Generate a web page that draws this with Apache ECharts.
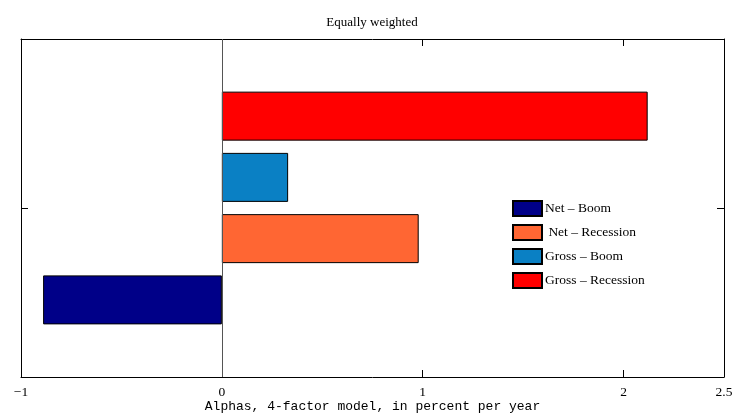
<!DOCTYPE html>
<html>
<head>
<meta charset="utf-8">
<script src="https://cdn.jsdelivr.net/npm/echarts@6/dist/echarts.min.js"></script>
<style>
  html, body { margin: 0; padding: 0; background: #ffffff; overflow: hidden; }
  #chart { width: 732px; height: 416px; }
</style>
</head>
<body>
<div id="chart"></div>
<script>
// Single group on the y axis, four bars (one per series)
const categories = [''];
const seriesNames = ['Net \u2013 Boom', ' Net \u2013 Recession', 'Gross \u2013 Boom', 'Gross \u2013 Recession'];
const netBoom = [-0.89];
const netRecession = [0.98];
const grossBoom = [0.33];
const grossRecession = [2.12];
const seriesColors = ['#000088', '#FF6633', '#0A80C4', '#FF0000'];
const xMin = -1;
const xMax = 2.5;
const xInterval = 1;

const seriesValues = [netBoom, netRecession, grossBoom, grossRecession];

const serif = 'Liberation Serif';
const mono = 'Liberation Mono';

const chart = echarts.init(document.getElementById('chart'), null, { renderer: 'canvas' });

const frameLine = { show: true, onZero: false, lineStyle: { color: '#000', width: 1 } };

const series = seriesNames.map((name, i) => {
  const s = {
    name: name,
    type: 'bar',
    data: seriesValues[i],
    barWidth: 49,
    barGap: '25%',
    itemStyle: { color: seriesColors[i], borderColor: '#000', borderWidth: 1 },
    emphasis: { disabled: true },
    animation: false
  };
  if (i === 0) {
    // baseline at zero
    s.markLine = {
      silent: true,
      symbol: ['none', 'none'],
      label: { show: false },
      lineStyle: { color: '#555', width: 1, type: 'solid' },
      data: [{ xAxis: 0 }],
      animation: false
    };
  }
  return s;
});
// horizontal bars stack top-down in series order, so list them last-first
// to put "Net – Boom" at the bottom; the legend keeps its own order
series.reverse();

const yAxisFor = position => ({
  type: 'category',
  position: position,
  data: categories,
  axisLine: frameLine,
  axisTick: { show: true, inside: true, length: 7, alignWithLabel: true, lineStyle: { color: '#000' } },
  axisLabel: { show: false },
  splitLine: { show: false }
});

chart.setOption({
  backgroundColor: '#ffffff',
  animation: false,
  title: {
    text: 'Equally weighted',
    left: 367,
    textAlign: 'center',
    top: 11,
    textStyle: { fontFamily: serif, fontSize: 13, fontWeight: 'normal', color: '#000' }
  },
  legend: {
    orient: 'vertical',
    left: 507,
    top: 195,
    itemWidth: 29,
    itemHeight: 15,
    itemGap: 7,
    icon: 'rect',
    data: seriesNames,
    selectedMode: false,
    textStyle: { fontFamily: serif, fontSize: 13.5, color: '#000', padding: [0, 0, 0, -2] }
  },
  grid: { left: 21, right: 8, top: 39, bottom: 39, containLabel: false, outerBoundsMode: 'none' },
  xAxis: [
    {
      type: 'value',
      position: 'bottom',
      min: xMin,
      max: xMax,
      interval: xInterval,
      name: 'Alphas, 4-factor model, in percent per year',
      nameLocation: 'middle',
      nameGap: 23,
      nameMoveOverlap: false,
      nameTextStyle: { fontFamily: mono, fontSize: 13, color: '#000' },
      axisLine: frameLine,
      axisTick: { show: true, inside: true, length: 7, lineStyle: { color: '#000' } },
      axisLabel: {
        margin: 8,
        fontFamily: serif,
        fontSize: 13.5,
        color: '#000',
        formatter: v => String(v).replace('-', '\u2212')
      },
      splitLine: { show: false }
    },
    {
      type: 'value',
      position: 'top',
      min: xMin,
      max: xMax,
      interval: xInterval,
      axisLine: frameLine,
      axisTick: { show: true, inside: true, length: 7, lineStyle: { color: '#000' } },
      axisLabel: { show: false },
      splitLine: { show: false }
    }
  ],
  yAxis: [yAxisFor('left'), yAxisFor('right')],
  series: series
});
</script>
</body>
</html>
